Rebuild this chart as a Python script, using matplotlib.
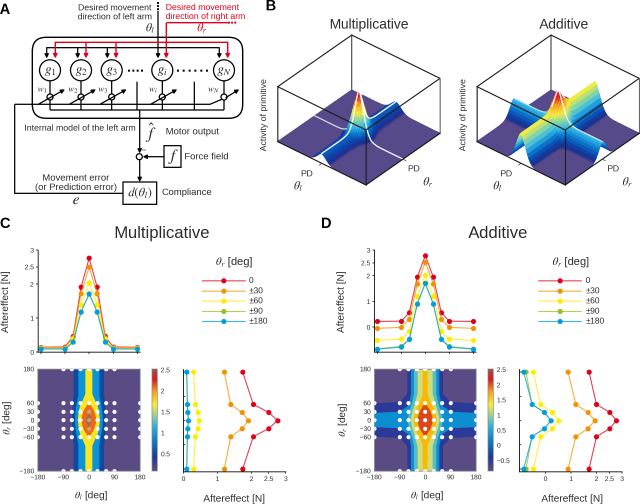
import numpy as np
import matplotlib
matplotlib.use("Agg")
import matplotlib.pyplot as plt
from matplotlib.cm import ScalarMappable
from matplotlib.colors import LinearSegmentedColormap, Normalize, to_rgba
from matplotlib.patches import Circle, FancyBboxPatch, Rectangle
from mpl_toolkits.mplot3d import proj3d

plt.rcParams["font.family"] = ["Liberation Sans", "DejaVu Sans"]
plt.rcParams["mathtext.fontset"] = "stix"
plt.rcParams["axes.linewidth"] = 0.6

W, H = 640, 504
INK = "#2b2b2b"

# aftereffect curves, theta_l goes -180 .. 180
theta_pts = [-180, -90, -60, -30, 0, 30, 60, 90, 180]
series_names = ["0", "±30", "±60", "±90", "±180"]
series_colors = ["#e2001a", "#f39200", "#ffed00", "#95c11f", "#009fe3"]

mult_0 = [0.14, 0.15, 0.46, 1.91, 2.76, 1.91, 0.46, 0.15, 0.14]
mult_30 = [0.13, 0.13, 0.42, 1.72, 2.50, 1.72, 0.42, 0.13, 0.13]
mult_60 = [0.11, 0.11, 0.38, 1.39, 2.03, 1.39, 0.38, 0.11, 0.11]
mult_90 = [0.09, 0.09, 0.29, 1.18, 1.72, 1.18, 0.29, 0.09, 0.09]
mult_180 = [0.09, 0.09, 0.29, 1.18, 1.71, 1.18, 0.29, 0.09, 0.09]

add_0 = [0.22, 0.23, 0.56, 1.95, 2.78, 1.95, 0.56, 0.23, 0.22]
add_30 = [-0.05, -0.01, 0.30, 1.68, 2.52, 1.68, 0.30, -0.01, -0.05]
add_60 = [-0.52, -0.47, -0.16, 1.20, 2.01, 1.20, -0.16, -0.47, -0.52]
add_90 = [-0.85, -0.75, -0.47, 0.90, 1.72, 0.90, -0.47, -0.75, -0.85]
add_180 = [-0.86, -0.78, -0.48, 0.90, 1.70, 0.90, -0.48, -0.78, -0.86]

# side panels, theta_r goes 180 .. -180
side_rows = [180, 60, 30, 0, -30, -60, -180]
mult_side = [
    [1.74, 2.05, 2.50, 2.76, 2.50, 2.05, 1.74],
    [1.20, 1.39, 1.72, 1.91, 1.72, 1.39, 1.20],
    [0.30, 0.35, 0.43, 0.46, 0.43, 0.35, 0.30],
    [0.10, 0.12, 0.13, 0.15, 0.13, 0.12, 0.10],
    [0.10, 0.12, 0.13, 0.15, 0.13, 0.12, 0.10],
]
add_side = [
    [1.71, 2.00, 2.52, 2.78, 2.52, 2.00, 1.71],
    [0.89, 1.19, 1.67, 1.94, 1.67, 1.19, 0.89],
    [-0.47, -0.18, 0.27, 0.52, 0.27, -0.18, -0.47],
    [-0.76, -0.52, -0.04, 0.22, -0.04, -0.52, -0.76],
    [-0.85, -0.52, -0.04, 0.22, -0.04, -0.52, -0.85],
]

mult_levels = [0, 0.5, 1, 1.5, 2, 2.5, 3]
mult_bands = ["#5b4b84", "#0e4aa0", "#0a93da", "#f7e620", "#ec6a14", "#9a6a5c"]
add_levels = [-1, -0.5, 0, 0.5, 1, 1.5, 2, 3]
add_bands = ["#5b4b84", "#2b3a98", "#0b8fd1", "#58bcc4", "#cfdc78", "#fbb800", "#d9481c"]

dot_l = [-180, -90, -60, -30, 0, 30, 60, 90, 180]
dot_r = [-180, -60, -30, 0, 30, 60, 180]

# primitive tuning profile, half of it
tuning_off = [0, 5, 10, 15, 20, 25, 30, 35, 40, 45, 50, 55, 60, 75, 90, 105, 120, 135, 150, 165, 180]
tuning_val = [1.0, 0.93, 0.82, 0.69, 0.56, 0.43, 0.31, 0.22, 0.15, 0.10, 0.06, 0.04, 0.025,
              0.005, 0, 0, 0, 0, 0, 0, 0]

bar_cmap = LinearSegmentedColormap.from_list("bar", [
    (0, "#5b4b84"), (0.14, "#1e3a9a"), (0.3, "#0a80cc"), (0.45, "#35b8d8"), (0.55, "#a0d090"),
    (0.65, "#f8ee30"), (0.78, "#f8a020"), (0.9, "#e01820"), (1, "#a05040")])
surf_cmap = LinearSegmentedColormap.from_list("surf", [
    (0, "#574a8a"), (0.03, "#574a8a"), (0.06, "#1f2c8c"), (0.14, "#0b45ac"), (0.26, "#0b80d0"),
    (0.36, "#35b8e8"), (0.5, "#90d8a0"), (0.62, "#f5ec40"), (0.78, "#f8a020"), (0.9, "#e02020"),
    (1, "#c81e1e")])

fig = plt.figure(figsize=(W / 100, H / 100), dpi=100)


def axes_px(x0, y0, x1, y1):
    return fig.add_axes([x0 / W, 1 - y1 / H, (x1 - x0) / W, (y1 - y0) / H])


def line_panel(box, series, ylim, yticks, ylabels):
    ax = axes_px(*box)
    for vals, c in zip(series, series_colors):
        ax.plot(theta_pts, vals, "-o", color=to_rgba(c, 0.75), mfc=c, lw=0.8, ms=3.7, mew=0, clip_on=False)
    ax.set_xlim(-191, 190)
    ax.set_ylim(*ylim)
    ax.set_xticks([-180, -90, 0, 90, 180], [])
    ax.set_yticks(yticks, ylabels)
    ax.tick_params(length=1.5, width=0.5, labelsize=4.8, pad=1.5, labelcolor=INK)
    ax.spines[["top", "right"]].set_visible(False)
    ax.patch.set_alpha(0)
    return ax


def map_panel(box, cbar_box, series, levels, bands, cbar_range, cbar_ticks, grey_dots):
    ax = axes_px(*box)
    s0, s30, s60, s90, s180 = series
    z = np.array([s180, s90, s60, s30, s0, s30, s60, s90, s180])
    ax.contourf(theta_pts, theta_pts, z, levels=levels, colors=bands)
    for tl in dot_l:
        for tr in dot_r:
            if abs(tl) == 180 and abs(tr) == 180:
                continue
            c = "white"
            if grey_dots and tl == 0 and abs(tr) <= 30:
                c = "#c8a088"
            ax.scatter(tl, tr, s=9, color=c, lw=0, zorder=3)
    ax.set_xlim(-180, 180)
    ax.set_ylim(-180, 180)
    ax.set_xticks([-180, -90, 0, 90, 180], ["−180", "−90", "0", "90", "180"])
    ax.set_yticks([-180, -60, -30, 0, 30, 60, 180], ["−180", "−60", "−30", "0", "30", "60", "180"])
    ax.tick_params(length=0, labelsize=4.8, pad=2.5, labelcolor=INK)
    for s in ax.spines.values():
        s.set_color("#888888")

    cax = axes_px(*cbar_box)
    sm = ScalarMappable(Normalize(*cbar_range), bar_cmap)
    cb = fig.colorbar(sm, cax=cax)
    cb.set_ticks(cbar_ticks, labels=[str(t).replace("-", "−") for t in cbar_ticks])
    cb.ax.tick_params(length=0, labelsize=4.8, pad=2.5, labelcolor=INK)
    cb.outline.set_edgecolor("#888888")
    cb.outline.set_linewidth(0.5)


def side_panel(box, series, xlim, xticks):
    ax = axes_px(*box)
    for vals, c in zip(series, series_colors):
        ax.plot(vals, side_rows, "-o", color=to_rgba(c, 0.75), mfc=c, lw=0.8, ms=3.7, mew=0, clip_on=False)
    ax.set_xlim(*xlim)
    ax.set_ylim(-190, 190)
    ax.set_xticks(xticks, [str(t) for t in xticks])
    ax.set_yticks([-180, -90, 0, 90, 180], [])
    ax.tick_params(axis="x", length=1.5, width=0.5, labelsize=4.8, pad=1.5, labelcolor=INK)
    ax.tick_params(axis="y", length=1.5, width=0.5, direction="in")
    ax.spines[["top", "right"]].set_visible(False)
    ax.patch.set_alpha(0)


def corner_px(ax, x, y, z):
    px, py, _ = proj3d.proj_transform(x, y, z, ax.get_proj())
    return ax.transData.transform((px, py))


def surface_panel(left, right, z, ridge_lines):
    """3D box placed so its floor corners land on the given pixels."""
    ax = fig.add_axes([0.4, 0.6, 0.3, 0.3], projection="3d", computed_zorder=False)
    ax.set_proj_type("ortho")
    ax.view_init(elev=35.8, azim=-50)
    ax.set_box_aspect((1, 1, 0.5885))
    ax.set_xlim(-180, 180)
    ax.set_ylim(-180, 180)
    ax.set_zlim(0, 1)
    ax.set_axis_off()
    ax.patch.set_alpha(0)

    size, cx, cy = 220.0, (left[0] + right[0]) / 2, H - (left[1] + right[1]) / 2
    for _ in range(4):
        ax.set_position([(cx - size / 2) / W, (cy - size / 2) / H, size / W, size / H])
        ax.apply_aspect()
        a = corner_px(ax, -180, -180, 0)
        b = corner_px(ax, 180, 180, 0)
        size *= (right[0] - left[0]) / (b[0] - a[0])
        cx += (left[0] + right[0]) / 2 - (a[0] + b[0]) / 2
        cy += (H - (left[1] + right[1]) / 2) - (a[1] + b[1]) / 2
    ax.set_position([(cx - size / 2) / W, (cy - size / 2) / H, size / W, size / H])

    xx, yy = np.meshgrid(grid, grid)
    mid = (z[:-1, :-1] + z[1:, :-1] + z[:-1, 1:] + z[1:, 1:]) / 4
    cols = surf_cmap(np.clip(mid / 0.87, 0, 1))

    # back edge behind the surface
    ax.plot([-180, -180], [180, 180], [0, 1], color="#555555", lw=0.9, zorder=1)
    ax.plot_surface(xx, yy, z, facecolors=cols, rstride=1, cstride=1, shade=False,
                    linewidth=0.5, antialiased=False, zorder=2)
    for xs, ys, zs, c, lw in ridge_lines:
        ax.plot(xs, ys, zs, color=c, lw=lw, zorder=3, solid_capstyle="round")

    black = dict(color="#1a1a1a", lw=0.8, zorder=4)
    ax.plot([-180, 180, 180, -180, -180], [-180, -180, 180, 180, -180], [1, 1, 1, 1, 1], **black)
    ax.plot([-180, -180], [-180, -180], [0, 1], **black)
    ax.plot([180, 180], [-180, -180], [0, 1], **black)
    ax.plot([180, 180], [180, 180], [0, 1], color="#666666", lw=0.8, zorder=4)
    ax.plot([-180, 180], [-180, -180], [0, 0], **black)
    ax.plot([180, 180], [-180, 180], [0, 0], **black)
    ax.plot([0, 0], [-180, -192], [0, 0], color=INK, lw=0.5, zorder=4)
    ax.plot([180, 192], [0, 0], [0, 0], color=INK, lw=0.5, zorder=4)


# panel C
line_panel((38, 250, 140, 352), [mult_0, mult_30, mult_60, mult_90, mult_180], (0, 3),
           [0, 1, 2, 2.5, 3], ["0", "1", "2", "2.5", "3"])
map_panel((37.7, 369, 140, 471), (152, 369, 157.3, 471), [mult_0, mult_30, mult_60, mult_90, mult_180],
          mult_levels, mult_bands, (0.09, 2.52), [0.5, 1, 1.5, 2, 2.5], True)
side_panel((183.3, 369.3, 285.7, 471.7), mult_side, (0, 3), [0, 1, 2, 2.5, 3])

# panel D
line_panel((374.3, 250, 476, 352), [add_0, add_30, add_60, add_90, add_180], (-0.97, 3),
           [0, 1, 2, 2.5, 3], ["0", "1", "2", "2.5", "3"])
map_panel((374.3, 369, 476, 471), (488, 369, 493.3, 471), [add_0, add_30, add_60, add_90, add_180],
          add_levels, add_bands, (-0.85, 2.52), [-0.5, 0, 0.5, 1, 1.5, 2, 2.5], False)
side_panel((519.3, 369.3, 622, 471.7), add_side, (-1.02, 3), [0, 1, 2, 2.5, 3])

# panel B surfaces
half_off = np.array(tuning_off, dtype=float)
half_val = np.array(tuning_val)
grid = np.r_[-half_off[:0:-1], half_off]
prof = np.r_[half_val[:0:-1], half_val]
g_l, g_r = np.meshgrid(prof, prof)
i0 = len(half_off) - 1

z_mult = g_l * (0.18 + 0.69 * g_r)
z_add = 0.55 * g_l + 0.32 * g_r

mult_lines = [
    (grid[:i0 - 9], np.zeros(i0 - 9), z_mult[i0, :i0 - 9], "#d8d4e8", 0.9),
    (grid[i0:], np.zeros(i0 + 1), z_mult[i0, i0:], "white", 0.9),
    (np.zeros(len(grid)), grid, z_mult[:, i0], "white", 0.9),
]
add_lines = [
    (grid[:i0 - 9], np.zeros(i0 - 9), z_add[i0, :i0 - 9], "#bfe6f5", 0.8),
    (grid[i0:i0 + 7], np.zeros(7), z_add[i0, i0:i0 + 7], "white", 0.9),
    (grid[i0 + 6:], np.zeros(i0 - 5), z_add[i0, i0 + 6:], "#e4f4fb", 0.8),
    (np.zeros(13), grid[i0 - 6:i0 + 7], z_add[i0 - 6:i0 + 7, i0], "white", 0.9),
]
surface_panel((277.7, 141.7), (440, 133.3), z_mult, mult_lines)
surface_panel((477, 141.7), (639.3, 133.3), z_add, add_lines)

# overlay for text and the panel A block diagram, in pixels
sk = fig.add_axes([0, 0, 1, 1], zorder=10)
sk.set_xlim(0, W)
sk.set_ylim(H, 0)
sk.axis("off")
sk.patch.set_alpha(0)


def text(x, y, s, size=6.3, ha="center", color=INK, **kw):
    sk.text(x, y, s, fontsize=size, ha=ha, va="center", color=color, **kw)


def seg(xs, ys, color="black", lw=0.9, **kw):
    sk.plot(xs, ys, color=color, lw=lw, solid_capstyle="butt", **kw)


def arrow(x0, y0, x1, y1, color="black", lw=0.9, scale=6):
    sk.annotate("", xy=(x1, y1), xytext=(x0, y0),
                arrowprops=dict(arrowstyle="-|>", color=color, lw=lw, mutation_scale=scale,
                                shrinkA=0, shrinkB=0))


for letter, x, y in [("A", 5, 10), ("B", 270.7, 6.5), ("C", 5, 224), ("D", 326, 224)]:
    text(x, y, letter, size=10.5, weight="bold", color="black")

text(369, 25, "Multiplicative", size=10)
text(564, 25, "Additive", size=10)
text(162, 233.7, "Multiplicative", size=12)
text(498, 233.7, "Additive", size=12)

# panel B labels
for off in (0, 199.3):
    text(264 + off, 115, "Activity of primitive", size=6.3, rotation=90)
    text(307 + off, 174, "PD", size=6.3)
    text(414 + off, 169, "PD", size=6.3)
    text(298 + off, 186, r"$\theta_l$", size=8.5)
    text(428 + off, 182, r"$\theta_r$", size=8.5)

# axis titles for C and D
text(5.7, 301.7, "Aftereffect [N]", size=7.3, rotation=90)
text(341.3, 301.7, "Aftereffect [N]", size=7.3, rotation=90)
text(7, 418, r"$\theta_r$ [deg]", size=7.3, rotation=90)
text(342.7, 420, r"$\theta_r$ [deg]", size=7.3, rotation=90)
text(91, 495.7, r"$\theta_l$ [deg]", size=7.3)
text(427, 495.7, r"$\theta_l$ [deg]", size=7.3)
text(234, 499, "Aftereffect [N]", size=7.3)
text(572, 499, "Aftereffect [N]", size=7.3)

# legends
legend_rows = [280.7, 291, 301, 311.3, 321.3]
for x0, x1, xt, xc in [(202.3, 245, 249, 234), (538.7, 581, 585.7, 570.7)]:
    text(xc, 262, r"$\theta_r$ [deg]", size=8)
    for y, name, c in zip(legend_rows, series_names, series_colors):
        sk.plot([x0, x1], [y, y], color=to_rgba(c, 0.75), lw=0.8)
        sk.plot([(x0 + x1) / 2], [y], "o", color=c, ms=3.7, mew=0)
        text(xt, y, name, size=6, ha="left")

# panel A, module block
sk.add_patch(FancyBboxPatch((32.3 + 14, 37.3 + 14), 210.4 - 28, 81 - 28,
                            boxstyle="round,pad=14,rounding_size=14",
                            fc="white", ec="black", lw=1.0))

unit_x = [50, 81, 111.7, 162.3, 224]
unit_names = [r"$g_1$", r"$g_2$", r"$g_3$", r"$g_i$", r"$g_N$"]
weight_names = [r"$w_1$", r"$w_2$", r"$w_3$", r"$w_i$", r"$w_N$"]
weight_text_x = [42, 72.7, 102.7, 152.7, 213.3]
black_drop = [46.7, 77.7, 107.3, 158, 219.3]
red_drop = [55.3, 86, 116, 166.3, 227.7]

seg([158, 158], [11, 47.7])
seg([158, 158], [2, 11], lw=1.4, ls=(0, (1, 0.6)))
seg([166.3, 166.3], [22.7, 42.3], color="#e2001a", lw=1.0)
seg([166.3, 228], [22.7, 22.7], color="#e2001a", lw=1.0)
seg([228, 237], [22.7, 22.7], color="#e2001a", lw=1.4, ls=(0, (1, 0.6)))
seg([46.7, 219.3], [47.7, 47.7])
seg([55.3, 227.7], [42.3, 42.3], color="#e2001a", lw=1.0)

for ux, bx, rx, un, wn, wx in zip(unit_x, black_drop, red_drop, unit_names, weight_names, weight_text_x):
    arrow(bx, 47.7, bx, 58.5)
    arrow(rx, 42.3, rx, 58.5, color="#e2001a", lw=1.0)
    sk.add_patch(Circle((ux, 70.3), 10.5, fc="white", ec="black", lw=0.9, zorder=3))
    text(ux, 70.3, un, size=9.5, zorder=4)
    seg([ux, ux], [80.8, 110])
    sk.add_patch(Circle((ux, 97), 3, fc="white", ec="black", lw=0.9, zorder=3))
    text(wx, 89.5, wn, size=6.5, zorder=4)
    if ux != 224:
        arrow(ux - 11.7, 104.3, ux + 15, 89.3)

seg([137, 137], [81.7, 110])
seg([194.3, 194.3], [81.7, 110])
seg([50, 224], [110, 110])
seg([14.7, 210, 226], [104.3, 104.3, 97.5])
arrow(226, 97.5, 239.3, 89.3)
seg([14.7, 14.7, 122.7], [104.3, 193.3, 193.3])
for xs in ([129, 133.3, 137.6, 142], [178, 183.8, 189.6, 195.4, 201.2, 207]):
    sk.plot(xs, [70.7] * len(xs), "s", color="black", ms=1.4, mew=0)

# panel A, lower part
arrow(139.7, 110, 139.7, 153.5)
sk.add_patch(Circle((139.3, 156.7), 3, fc="white", ec="black", lw=0.9, zorder=3))
arrow(164, 156.7, 142.6, 156.7)
arrow(139.7, 160, 139.7, 182)
sk.add_patch(Rectangle((164, 145.7), 17, 21.6, fc="white", ec="black", lw=0.9))
sk.add_patch(Rectangle((123, 182), 33.7, 22.3, fc="white", ec="black", lw=0.9))

text(114.7, 8, "Desired movement")
text(114.7, 17, "direction of left arm")
text(165.7, 7.5, "Desired movement", ha="left", color="#e2001a")
text(165.7, 16.5, "direction of right arm", ha="left", color="#e2001a")
text(150, 28, r"$\theta_l$", size=8.5)
text(201.7, 28, r"$\theta_r$", size=8.5, color="#e2001a")
text(24.3, 128.3, "Internal model of the left arm", ha="left")
text(150.7, 132.5, r"$\hat{f}$", size=12)
text(165.7, 132, "Motor output", size=6.8, ha="left")
text(173, 156.7, r"$f$", size=12)
text(144, 150, "−", size=6)
text(184.3, 157, "Force field", size=6.8, ha="left")
text(75.7, 178.3, "Movement error", size=6.8)
text(76, 187.7, "(or Prediction error)", size=6.8)
text(75.7, 200, r"$e$", size=11)
text(139.8, 193, r"$d(\theta_l)$", size=9)
text(161.7, 192.7, "Compliance", size=6.8, ha="left")

# render big and average down, the thin surface bands go muddy at 100 dpi
fig.savefig("out.png", dpi=300)
big = plt.imread("out.png")
small = big.reshape(H, 3, W, 3, big.shape[2]).mean(axis=(1, 3))
plt.imsave("out.png", small)
